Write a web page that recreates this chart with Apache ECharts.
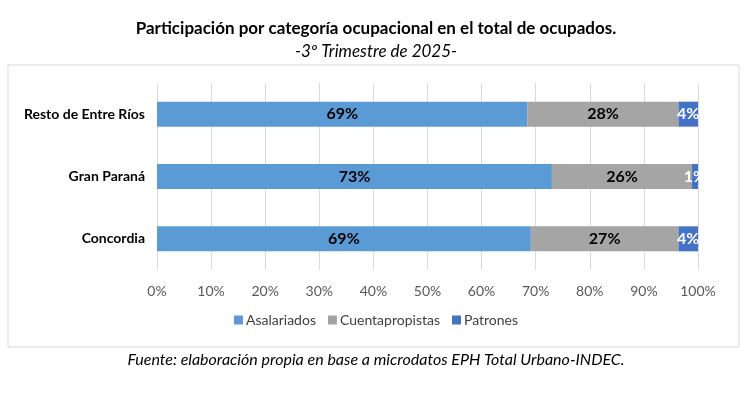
<!DOCTYPE html>
<html><head><meta charset="utf-8">
<script src="https://cdn.jsdelivr.net/npm/echarts@6/dist/echarts.min.js"></script>
<style>html,body{margin:0;padding:0;background:#fff}#c{width:752px;height:420px}</style>
</head><body><div id="c"></div>
<script>
const categories = ['Concordia', 'Gran Paraná', 'Resto de Entre Ríos'];
const asalariados = [69.1, 73.0, 68.5];
const cuentapropistas = [27.3, 25.9, 27.9];
const patrones = [3.6, 1.1, 3.6];
const ticks = [0,10,20,30,40,50,60,70,80,90,100];

const FONT = 'Lato';
const chart = echarts.init(document.getElementById('c'));
const lbl = (color) => ({
  show: true, position: 'inside', color: color, fontWeight: 'bold', fontSize: 16, fontFamily: FONT,
  formatter: p => Math.round(p.value) + '%'
});
chart.setOption({
  animation: false,
  textStyle: { fontFamily: FONT },
  title: [
    { text: 'Participación por categoría ocupacional en el total de ocupados.', left: 'center', top: 15,
      textStyle: { fontFamily: FONT, fontWeight: 'bold', fontSize: 17, color: '#000' } },
    { text: '-3º Trimestre de 2025-', left: 'center', top: 38,
      textStyle: { fontFamily: FONT, fontStyle: 'italic', fontWeight: 'normal', fontSize: 17, color: '#000' } },
    { text: 'Fuente: elaboración propia en base a microdatos EPH Total Urbano-INDEC.', left: 'center', top: 347,
      textStyle: { fontFamily: FONT, fontStyle: 'italic', fontWeight: 'normal', fontSize: 16, color: '#000' } }
  ],
  graphic: [{ type: 'rect', shape: { x: 8, y: 65, width: 731, height: 282 }, style: { fill: 'none', stroke: '#d9d9d9', lineWidth: 1 }, z: -1 }],
  legend: { bottom: 88, left: 'center', itemWidth: 9, itemHeight: 9, itemGap: 12, icon: 'rect',
    textStyle: { fontFamily: FONT, fontSize: 14, color: '#404040', padding: [0, 0, 0, -2] },
    data: ['Asalariados', 'Cuentapropistas', 'Patrones'] },
  grid: { left: 157, right: 54, top: 83, bottom: 150 },
  xAxis: { type: 'value', min: 0, max: 100, interval: 10,
    axisLabel: { formatter: v => v + '%', color: '#595959', fontSize: 14, fontFamily: FONT, margin: 14 },
    axisLine: { show: false }, axisTick: { show: false },
    splitLine: { lineStyle: { color: '#d9d9d9' } } },
  yAxis: { type: 'category', data: categories,
    axisLabel: { color: '#000', fontWeight: 'bold', fontSize: 14, fontFamily: FONT, margin: 12 },
    axisLine: { show: false }, axisTick: { show: false } },
  series: [
    { name: 'Asalariados', type: 'bar', stack: 't', barWidth: 25, data: asalariados, itemStyle: { color: '#5B9BD5' }, label: lbl('#000') },
    { name: 'Cuentapropistas', type: 'bar', stack: 't', barWidth: 25, data: cuentapropistas, itemStyle: { color: '#A5A5A5' }, label: lbl('#000') },
    { name: 'Patrones', type: 'bar', stack: 't', barWidth: 25, data: patrones, itemStyle: { color: '#4472C4' }, label: lbl('#fff') }
  ]
});
</script></body></html>
